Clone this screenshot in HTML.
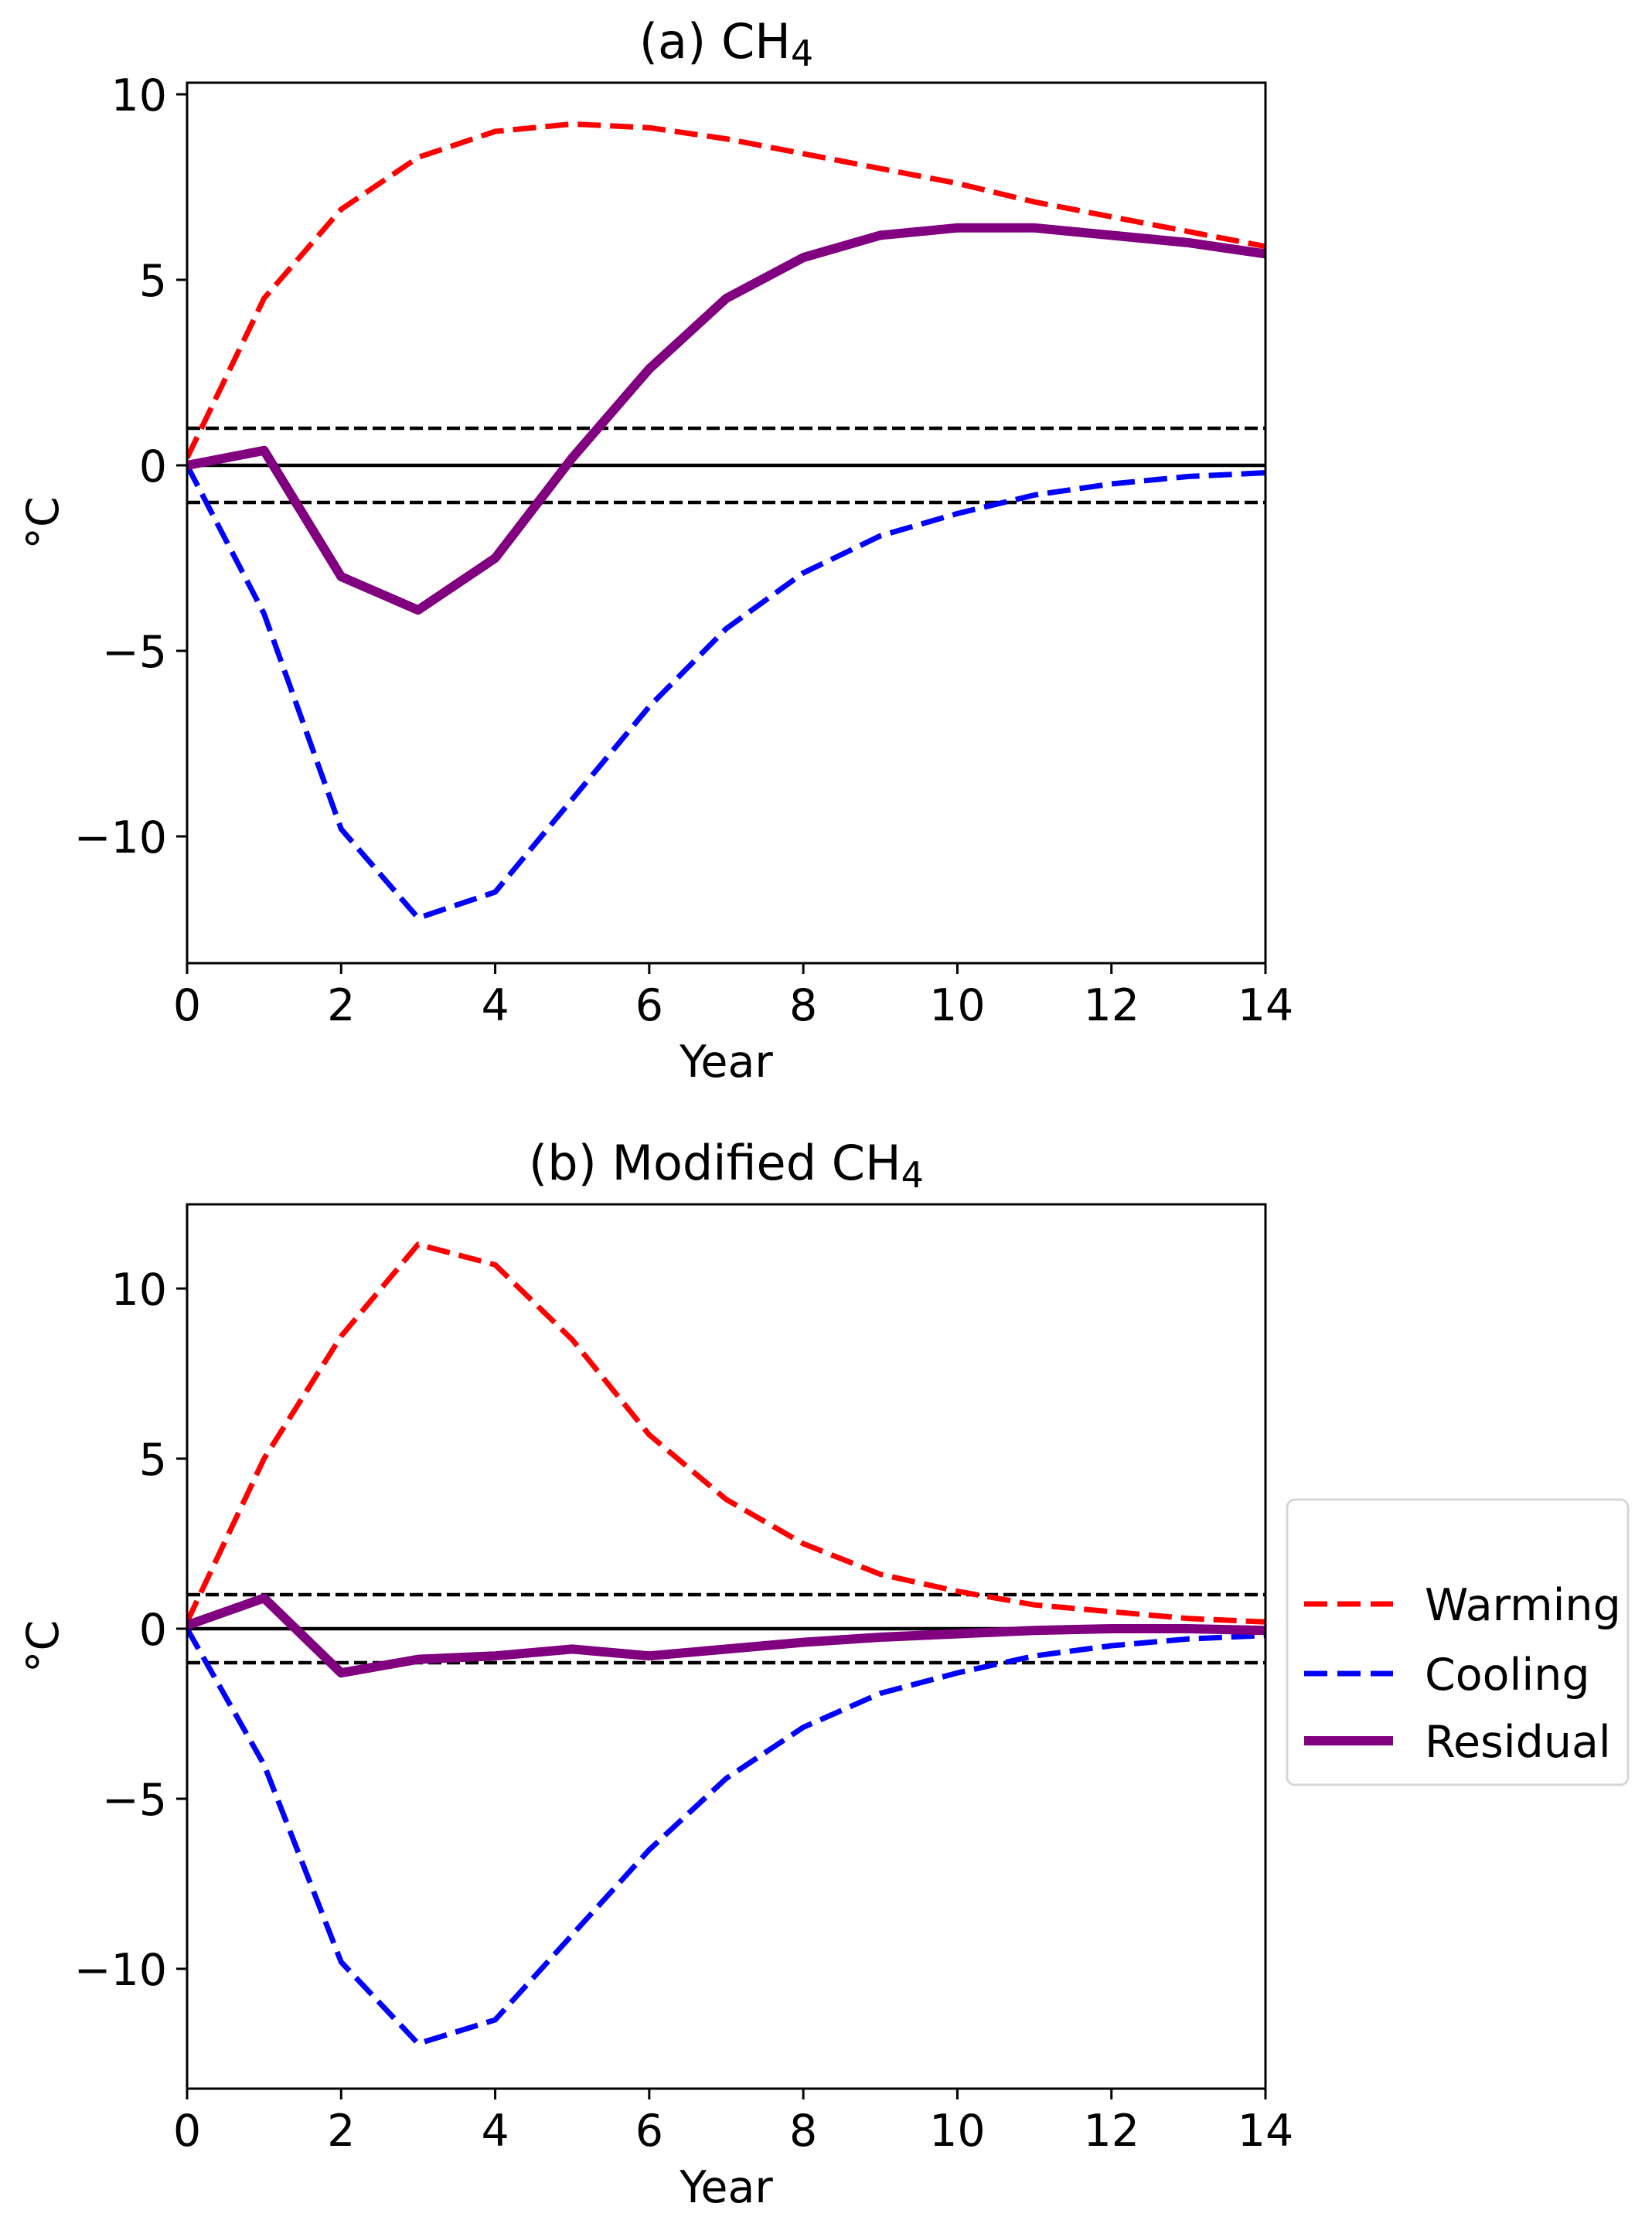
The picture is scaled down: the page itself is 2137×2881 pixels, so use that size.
<!DOCTYPE html>
<html><head><meta charset="utf-8"><style>
html,body{margin:0;padding:0;background:#fff;}
svg{display:block;font-family:"DejaVu Sans","Liberation Sans",sans-serif;}
</style></head><body>
<svg id="fig" width="2137" height="2881" viewBox="0 0 2137 2881" xmlns="http://www.w3.org/2000/svg"></svg>
<script>
const years=[0,1,2,3,4,5,6,7,8,9,10,11,12,13,14];
const warmingA=[0.2,4.5,6.9,8.3,9.0,9.2,9.1,8.8,8.4,8.0,7.6,7.1,6.7,6.3,5.9];
const coolingA=[0,-4.0,-9.8,-12.2,-11.5,-9.0,-6.5,-4.4,-2.9,-1.9,-1.3,-0.8,-0.5,-0.3,-0.2];
const residualA=[0,0.4,-3.0,-3.9,-2.5,0.2,2.6,4.5,5.6,6.2,6.4,6.4,6.2,6.0,5.7];
const warmingB=[0.2,5.0,8.6,11.3,10.7,8.5,5.7,3.8,2.5,1.6,1.1,0.7,0.5,0.3,0.2];
const coolingB=[0,-4.0,-9.8,-12.2,-11.5,-9.0,-6.5,-4.4,-2.9,-1.9,-1.3,-0.8,-0.5,-0.3,-0.2];
const residualB=[0.1,0.9,-1.3,-0.9,-0.8,-0.6,-0.8,-0.6,-0.4,-0.25,-0.15,-0.05,0,0,-0.05];
const xTicks=[0,2,4,6,8,10,12,14];
const yTicks=[-10,-5,0,5,10];
const yTickLabels=["\u221210","\u22125","0","5","10"];
const thresholds=[1,-1];

const NS="http://www.w3.org/2000/svg";
const svg=document.getElementById('fig');
function mk(tag,attrs,parent){const e=document.createElementNS(NS,tag);for(const k in attrs)e.setAttribute(k,attrs[k]);(parent||svg).appendChild(e);return e;}

function panel(cfg){
  const g=mk('g',{});
  
  
  const L=242,R=1637,T=cfg.top,B=cfg.bottom;
  const xs=v=>L+(v-0)/(14-0)*(R-L);
  const ys=v=>cfg.y0-v*cfg.ppu;
  const clipId='clip'+cfg.id;
  const cp=mk('clipPath',{id:clipId},g);mk('rect',{x:L,y:T,width:R-L,height:B-T},cp);
  const inner=mk('g',{'clip-path':'url(#'+clipId+')'},g);
  const z=mk('line',{x1:L,x2:R,y1:ys(0),y2:ys(0),stroke:'#000','stroke-width':4.5},inner);
  
  
  thresholds.forEach(t=>{
    const l=mk('line',{x1:L,x2:R,y1:ys(t),y2:ys(t),stroke:'#000','stroke-width':4.5,'stroke-dasharray':'17 7'},inner);
    
    
  });
  const series=[
    {d:cfg.w,c:'#ff0000',w:7,dash:'30 12',n:'warming-line'},
    {d:cfg.c,c:'#0000ff',w:7,dash:'30 12',n:'cooling-line'},
    {d:cfg.r,c:'#800080',w:12,dash:null,n:'residual-line'}];
  series.forEach(s=>{
    const pts=years.map((yr,i)=>xs(yr).toFixed(1)+','+ys(s.d[i]).toFixed(1)).join(' ');
    const a={points:pts,fill:'none',stroke:s.c,'stroke-width':s.w,'stroke-linejoin':'round'};
    if(s.dash)a['stroke-dasharray']=s.dash;
    const p=mk('polyline',a,inner);
    
    
  });
  const fr=mk('rect',{x:L,y:T,width:R-L,height:B-T,fill:'none',stroke:'#000','stroke-width':3},g);
  
  
  xTicks.forEach(t=>{
    mk('line',{x1:xs(t),x2:xs(t),y1:B,y2:B+14,stroke:'#000','stroke-width':3},g);
    const tx=mk('text',{x:xs(t),y:B+74,'font-size':57,'text-anchor':'middle',fill:'#000'},g);
    tx.textContent=t;
    
    
  });
  yTicks.forEach((t,i)=>{
    mk('line',{x1:L-14,x2:L,y1:ys(t),y2:ys(t),stroke:'#000','stroke-width':3},g);
    const tx=mk('text',{x:L-26,y:ys(t)+21,'font-size':57,'text-anchor':'end',fill:'#000'},g);
    tx.textContent=yTickLabels[i];
    
    
  });
  const xl=mk('text',{x:(L+R)/2,y:B+147,'font-size':57,'text-anchor':'middle',fill:'#000'},g);
  xl.textContent='Year';
  
  
  const cy=(T+B)/2;
  const yl=mk('text',{x:75,y:cy,'font-size':57,'text-anchor':'middle',fill:'#000',transform:'rotate(-90 75 '+cy+')'},g);
  yl.textContent='°C';
  
  
  const ti=mk('text',{x:(L+R)/2,y:T-32,'font-size':62,'text-anchor':'middle',fill:'#000'},g);
  ti.innerHTML=cfg.title+'<tspan font-size="46" dy="10">4</tspan>';
  
  
}
panel({id:'a',name:'panel-a-ch4',top:107,bottom:1246,y0:602,ppu:48.0,w:warmingA,c:coolingA,r:residualA,title:'(a) CH'});
panel({id:'b',name:'panel-b-modified-ch4',top:1558,bottom:2702,y0:2107,ppu:44.0,w:warmingB,c:coolingB,r:residualB,title:'(b) Modified CH'});

const lg=mk('g',{});


mk('rect',{x:1665,y:1940,width:441,height:369,rx:10,fill:'#fff',stroke:'#d6d6d6','stroke-width':3},lg);
const entries=[['Warming','#ff0000',7,'30 13',2075,'legend-entry-warming'],['Cooling','#0000ff',7,'30 13',2165,'legend-entry-cooling'],['Residual','#800080',12,null,2252,'legend-entry-residual']];
entries.forEach(e=>{
  const eg=mk('g',{},lg);
  
  
  const a={x1:1687,x2:1802,y1:e[4],y2:e[4],stroke:e[1],'stroke-width':e[2]};
  if(e[3])a['stroke-dasharray']=e[3];
  mk('line',a,eg);
  const t=mk('text',{x:1843,y:e[4]+21,'font-size':57,fill:'#000'},eg);
  t.textContent=e[0];
});
</script>
</body></html>
